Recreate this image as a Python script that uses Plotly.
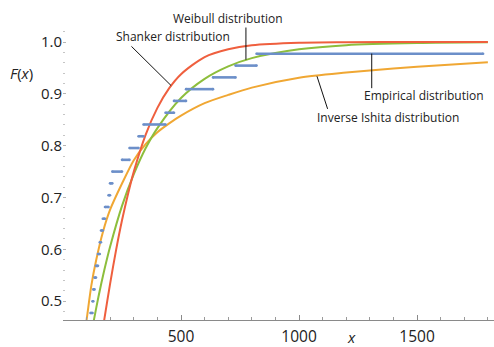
import plotly.graph_objects as go

# ---- data ----
shanker_x = [160, 175, 200, 225, 250, 275, 300, 350, 400, 450, 500, 600, 700, 800, 1000, 1200, 1500, 1800]
shanker_F = [0.420, 0.465, 0.535, 0.599, 0.656, 0.706, 0.750, 0.821, 0.873, 0.911, 0.938, 0.971, 0.986, 0.9938, 0.9987, 0.9997, 1.0, 1.0]

weibull_x = [120, 131, 150, 175, 200, 250, 300, 350, 400, 500, 600, 700, 800, 1000, 1200, 1500, 1800]
weibull_F = [0.437, 0.464, 0.508, 0.560, 0.606, 0.684, 0.745, 0.795, 0.834, 0.892, 0.929, 0.953, 0.969, 0.986, 0.994, 0.998, 0.9994]

ishita_x = [90, 100, 120, 140, 170, 200, 250, 300, 350, 400, 450, 500, 600, 700, 800, 1000, 1200, 1400, 1600, 1800]
ishita_F = [0.435, 0.464, 0.530, 0.578, 0.635, 0.677, 0.727, 0.772, 0.803, 0.826, 0.843, 0.858, 0.882, 0.898, 0.912, 0.931, 0.941, 0.949, 0.955, 0.961]

# empirical CDF: breakpoints (step edges) and level held between consecutive edges
emp_edges = [116.5, 125, 128.4, 133.5, 139.8, 148.3, 155.9, 161, 168.6, 178, 192.8, 199.2,
             208.9, 250, 281.8, 319.9, 341.1, 434.3, 470.3, 521.2, 635.6, 730.9, 819.9, 1779.7]
emp_levels = [0.4773, 0.5000, 0.5227, 0.5455, 0.5682, 0.5909, 0.6136, 0.6364, 0.6591, 0.6818,
              0.7045, 0.7273, 0.7500, 0.7727, 0.7955, 0.8182, 0.8409, 0.8636, 0.8864, 0.9091,
              0.9318, 0.9545, 0.9773]

x_ticks = [500, 1000, 1500]
y_ticks = [0.5, 0.6, 0.7, 0.8, 0.9, 1.0]
y_tick_text = ["0.5", "0.6", "0.7", "0.8", "0.9", "1.0"]

RED = "#EF5F3E"
GREEN = "#8DBE3C"
ORANGE = "#F0A733"
BLUE = "#6C8FC9"
FONT = "Open Sans"

ex, ey = [], []
for i, lv in enumerate(emp_levels):
    ex += [emp_edges[i], emp_edges[i + 1], None]
    ey += [lv, lv, None]

fig = go.Figure()
fig.add_trace(go.Scatter(x=ishita_x, y=ishita_F, mode="lines", line=dict(color=ORANGE, width=2, shape="spline", smoothing=0.8)))
fig.add_trace(go.Scatter(x=weibull_x, y=weibull_F, mode="lines", line=dict(color=GREEN, width=2, shape="spline", smoothing=0.8)))
fig.add_trace(go.Scatter(x=shanker_x, y=shanker_F, mode="lines", line=dict(color=RED, width=2, shape="spline", smoothing=0.8)))
fig.add_trace(go.Scatter(x=ex, y=ey, mode="lines+markers", connectgaps=False,
                         line=dict(color=BLUE, width=2.6),
                         marker=dict(color=BLUE, size=2.6, line=dict(width=0))))

shapes = [
    dict(type="line", xref="x", yref="y", x0=290, y0=0.9916, x1=458, y1=0.916, line=dict(color="#111", width=1)),
    dict(type="line", xref="x", yref="y", x0=775, y0=1.028, x1=775, y1=0.966, line=dict(color="#111", width=1)),
    dict(type="line", xref="x", yref="y", x0=1308, y0=0.9777, x1=1308, y1=0.911, line=dict(color="#111", width=1)),
    dict(type="line", xref="x", yref="y", x0=1076, y0=0.934, x1=1121, y1=0.871, line=dict(color="#111", width=1)),
]

ann_font = dict(family=FONT, size=12, color="#222")
annotations = [
    dict(text="Shanker distribution", xref="paper", yref="paper", x=0.2541, y=0.9673, showarrow=False, font=ann_font, xanchor="center", yanchor="middle"),
    dict(text="Weibull distribution", xref="paper", yref="paper", x=0.3817, y=1.0294, showarrow=False, font=ann_font, xanchor="center", yanchor="middle"),
    dict(text="Empirical distribution", xref="paper", yref="paper", x=0.8376, y=0.7648, showarrow=False, font=ann_font, xanchor="center", yanchor="middle"),
    dict(text="Inverse Ishita distribution", xref="paper", yref="paper", x=0.7541, y=0.6919, showarrow=False, font=ann_font, xanchor="center", yanchor="middle"),
    dict(text="<i>F</i>(<i>x</i>)", xref="paper", yref="paper", x=-0.0963, y=0.8447, showarrow=False, font=dict(family=FONT, size=15, color="#222"), xanchor="center", yanchor="middle"),
    dict(text="<i>x</i>", xref="paper", yref="paper", x=0.6705, y=-0.058, showarrow=False, font=dict(family=FONT, size=15, color="#222"), xanchor="center", yanchor="middle"),
]

fig.update_layout(
    width=494, height=347,
    margin=dict(l=63, r=0, t=27, b=24),
    paper_bgcolor="white", plot_bgcolor="white",
    showlegend=False,
    shapes=shapes, annotations=annotations,
    xaxis=dict(range=[0, 1826], tickmode="array", tickvals=x_ticks, ticktext=[str(v) for v in x_ticks],
               showgrid=False, zeroline=False, showline=True, linecolor="#8a8a8a", linewidth=1,
               ticks="inside", ticklen=5, tickcolor="#8a8a8a", tickwidth=1,
               minor=dict(tickmode="linear", tick0=0, dtick=100, ticks="inside", ticklen=3, tickcolor="#9a9a9a", showgrid=False),
               tickfont=dict(family=FONT, size=15.5, color="#222"), ticklabelstandoff=2),
    yaxis=dict(range=[0.4637, 1.029], tickmode="array", tickvals=y_ticks, ticktext=y_tick_text,
               showgrid=False, zeroline=False, showline=False,
               ticks="inside", ticklen=3, tickcolor="#b5b5b5", tickwidth=1,
               minor=dict(tickmode="linear", tick0=0, dtick=0.02, ticks="inside", ticklen=2, tickcolor="#c5c5c5", showgrid=False),
               tickfont=dict(family=FONT, size=15, color="#222"), ticklabelstandoff=0),
)

fig.write_html("out.html", config={"displayModeBar": False},
               post_script="document.body.style.margin='0px';document.body.style.padding='0px';document.body.style.overflow='hidden';")
